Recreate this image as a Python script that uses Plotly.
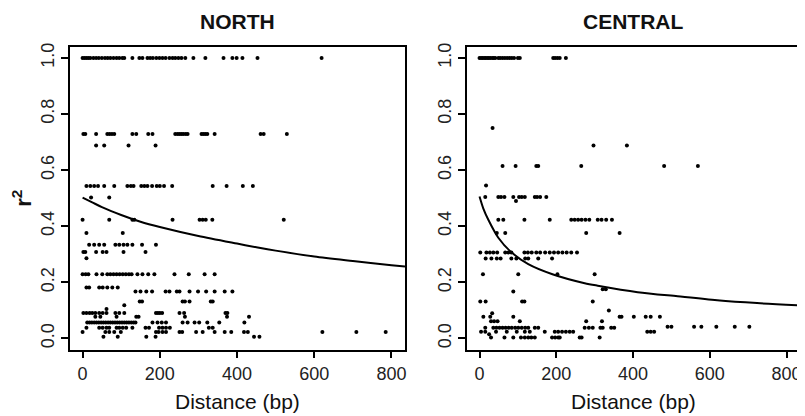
import plotly.graph_objects as go

# r^2 levels and the distances (bp) of the points sitting on each level
north_r2 = [1.0, 0.729, 0.688, 0.543, 0.502, 0.423, 0.376, 0.334, 0.308, 0.286,
            0.229, 0.182, 0.167, 0.132, 0.118, 0.105, 0.091, 0.077, 0.057,
            0.038, 0.023, 0.006]
north_dist = [
    [0, 5, 10, 15, 20, 28, 35, 42, 50, 58, 65, 72, 80, 88, 95, 103, 108, 129, 147,
     155, 168, 175, 182, 191, 199, 207, 215, 225, 233, 240, 248, 256, 266, 287,
     318, 365, 388, 399, 414, 453, 619],
    [2, 7, 35, 64, 70, 76, 82, 129, 139, 170, 181, 240, 246, 251, 256, 261, 267,
     272, 308, 313, 318, 323, 342, 461, 469, 529],
    [35, 56, 119, 189],
    [10, 20, 30, 40, 56, 82, 116, 125, 132, 152, 160, 168, 180, 192, 200, 211,
     232, 337, 373, 415, 441],
    [22, 69],
    [0, 69, 129, 134, 233, 303, 311, 319, 336, 521],
    [10, 104],
    [17, 30, 43, 56, 85, 95, 106, 116, 129, 154, 190],
    [2, 7, 35, 52, 62, 106, 163],
    [10],
    [0, 8, 15, 36, 51, 64, 72, 80, 88, 96, 104, 112, 120, 127, 142, 155, 170, 186,
     238, 275, 316, 342],
    [10, 17, 43, 52, 64, 77, 91],
    [137, 150, 165, 180, 215, 225, 244, 251, 277, 299, 320, 342, 368, 388],
    [148, 154, 259, 265, 277, 332, 337],
    [108],
    [62],
    [2, 10, 18, 25, 33, 43, 52, 62, 85, 95, 108, 190, 195, 200, 206, 251, 263,
     370, 375],
    [33, 46, 88, 139, 145, 265, 374, 431],
    [12, 18, 24, 30, 36, 42, 48, 54, 60, 66, 72, 78, 84, 90, 96, 102, 108, 114,
     120, 126, 132, 137, 181, 194, 205, 216, 259, 272, 290, 302, 323, 354, 419],
    [10, 43, 52, 62, 69, 88, 95, 104, 113, 129, 163, 172, 198, 207, 216, 226,
     327, 337],
    [0, 59, 69, 82, 99, 190, 197, 207, 216, 251, 258, 294, 311, 342, 368, 385,
     418, 428, 621, 709, 785],
    [54, 91, 165, 189, 444, 458],
]

central_r2 = [1.0, 0.75, 0.688, 0.615, 0.545, 0.504, 0.49, 0.423, 0.376, 0.306,
              0.285, 0.229, 0.175, 0.167, 0.132, 0.1, 0.09, 0.077, 0.061, 0.042,
              0.038, 0.024, 0.015, 0.003]
central_dist = [
    [0, 4, 8, 12, 16, 20, 24, 28, 33, 37, 41, 49, 54, 60, 66, 72, 78, 84, 90,
     100, 105, 192, 197, 203, 209, 225],
    [34],
    [297, 384],
    [60, 94, 148, 153, 265, 481, 569],
    [17],
    [15, 49, 56, 65, 88, 103, 110, 118, 144, 150, 158, 174],
    [95],
    [49, 62, 117, 183, 239, 248, 257, 266, 276, 286, 308, 318, 330, 345],
    [45, 67, 278, 365],
    [2, 18, 27, 36, 46, 67, 75, 83, 117, 126, 136, 148, 158, 171, 183, 194, 205,
     216, 227, 239, 254],
    [16, 31, 45, 55, 83, 96, 119, 127, 153, 189],
    [9, 101, 203, 300],
    [321, 329],
    [88],
    [2, 16, 111, 117, 295],
    [337],
    [33],
    [10, 28, 88, 365, 370, 402, 433, 446, 470],
    [30, 38, 47, 105, 278, 319],
    [490, 500, 559, 578, 617, 665, 703],
    [15, 36, 44, 52, 60, 68, 76, 84, 93, 101, 110, 119, 127, 144, 153, 274, 285,
     295, 315, 321, 343, 351],
    [4, 15, 43, 71, 97, 118, 131, 170, 196, 205, 215, 225, 235, 244, 437, 446,
     455],
    [25],
    [30, 65, 88, 108, 118, 127, 135, 144, 189, 197, 205, 209, 261, 266, 313],
]

# fitted decay curves
north_curve_x = [0, 25, 50, 100, 150, 200, 300, 400, 450, 500, 600, 700, 800, 835]
north_curve_y = [0.502, 0.485, 0.468, 0.44, 0.416, 0.397, 0.365, 0.338, 0.325,
                 0.313, 0.292, 0.276, 0.261, 0.256]
central_curve_x = [0, 10, 23, 49, 84, 127, 190, 274, 308, 412, 516, 619, 723, 835]
central_curve_y = [0.506, 0.463, 0.423, 0.359, 0.306, 0.265, 0.229, 0.197, 0.188,
                   0.165, 0.150, 0.136, 0.126, 0.118]

x_ticks = [0, 200, 400, 600, 800]
y_ticks = [0.0, 0.2, 0.4, 0.6, 0.8, 1.0]

FONT = "Arial, Liberation Sans, sans-serif"
# the page body keeps its default 8px margin, so the figure is placed at (8, 8)
OFF = 8
W, H = 805 - OFF, 416 - OFF


def flatten(levels, dists):
    xs, ys = [], []
    for lvl, row in zip(levels, dists):
        xs += row
        ys += [lvl] * len(row)
    return xs, ys


def hdom(a, b):
    return [(a - OFF) / W, (b - OFF) / W]


fig = go.Figure()

panels = [
    ("NORTH", north_r2, north_dist, north_curve_x, north_curve_y, "x", "y"),
    ("CENTRAL", central_r2, central_dist, central_curve_x, central_curve_y, "x2", "y2"),
]

for name, lv, ds, cx, cy, xa, ya in panels:
    px, py = flatten(lv, ds)
    fig.add_trace(go.Scatter(
        x=px, y=py, mode="markers", xaxis=xa, yaxis=ya,
        marker=dict(color="black", size=4), showlegend=False, name=name,
    ))
    fig.add_trace(go.Scatter(
        x=cx, y=cy, mode="lines", xaxis=xa, yaxis=ya,
        line=dict(color="black", width=2, shape="spline", smoothing=0.8),
        showlegend=False,
    ))

# panel boxes, from pixel positions in the reference
left_dom = hdom(70, 406)
right_dom = hdom(468, 802)
y_dom = [1 - (349 - OFF) / H, 1 - (43 - OFF) / H]

axis_common = dict(
    showline=True, mirror=True, linecolor="black", linewidth=1.5,
    ticks="outside", ticklen=7, tickwidth=1.5, tickcolor="black",
    showgrid=False, zeroline=False,
    tickfont=dict(family=FONT, size=18, color="#222"),
)
xa_common = dict(axis_common, range=[-33, 835], tickvals=x_ticks,
                 title=dict(text="Distance (bp)", standoff=11,
                            font=dict(family=FONT, size=21, color="#111")))
ya_common = dict(axis_common, range=[-0.04, 1.04], tickvals=y_ticks,
                 tickformat=".1f", tickangle=-90)

fig.update_layout(
    width=W, height=H,
    margin=dict(l=0, r=0, t=0, b=0),
    plot_bgcolor="white", paper_bgcolor="white",
    xaxis=dict(xa_common, domain=left_dom, anchor="y"),
    yaxis=dict(ya_common, domain=y_dom, anchor="x",
               title=dict(text="<b>r<sup>2</sup></b>", standoff=7,
                          font=dict(family=FONT, size=22, color="#111"))),
    xaxis2=dict(xa_common, domain=right_dom, anchor="y2"),
    yaxis2=dict(ya_common, domain=y_dom, anchor="x2"),
)

for name, dom in [("NORTH", left_dom), ("CENTRAL", right_dom)]:
    fig.add_annotation(
        text="<b>%s</b>" % name, xref="paper", yref="paper",
        x=(dom[0] + dom[1]) / 2, y=1 - (18 - OFF) / H, showarrow=False,
        xanchor="center", yanchor="middle",
        font=dict(family=FONT, size=21, color="#111"),
    )

fig.write_html("out.html")
